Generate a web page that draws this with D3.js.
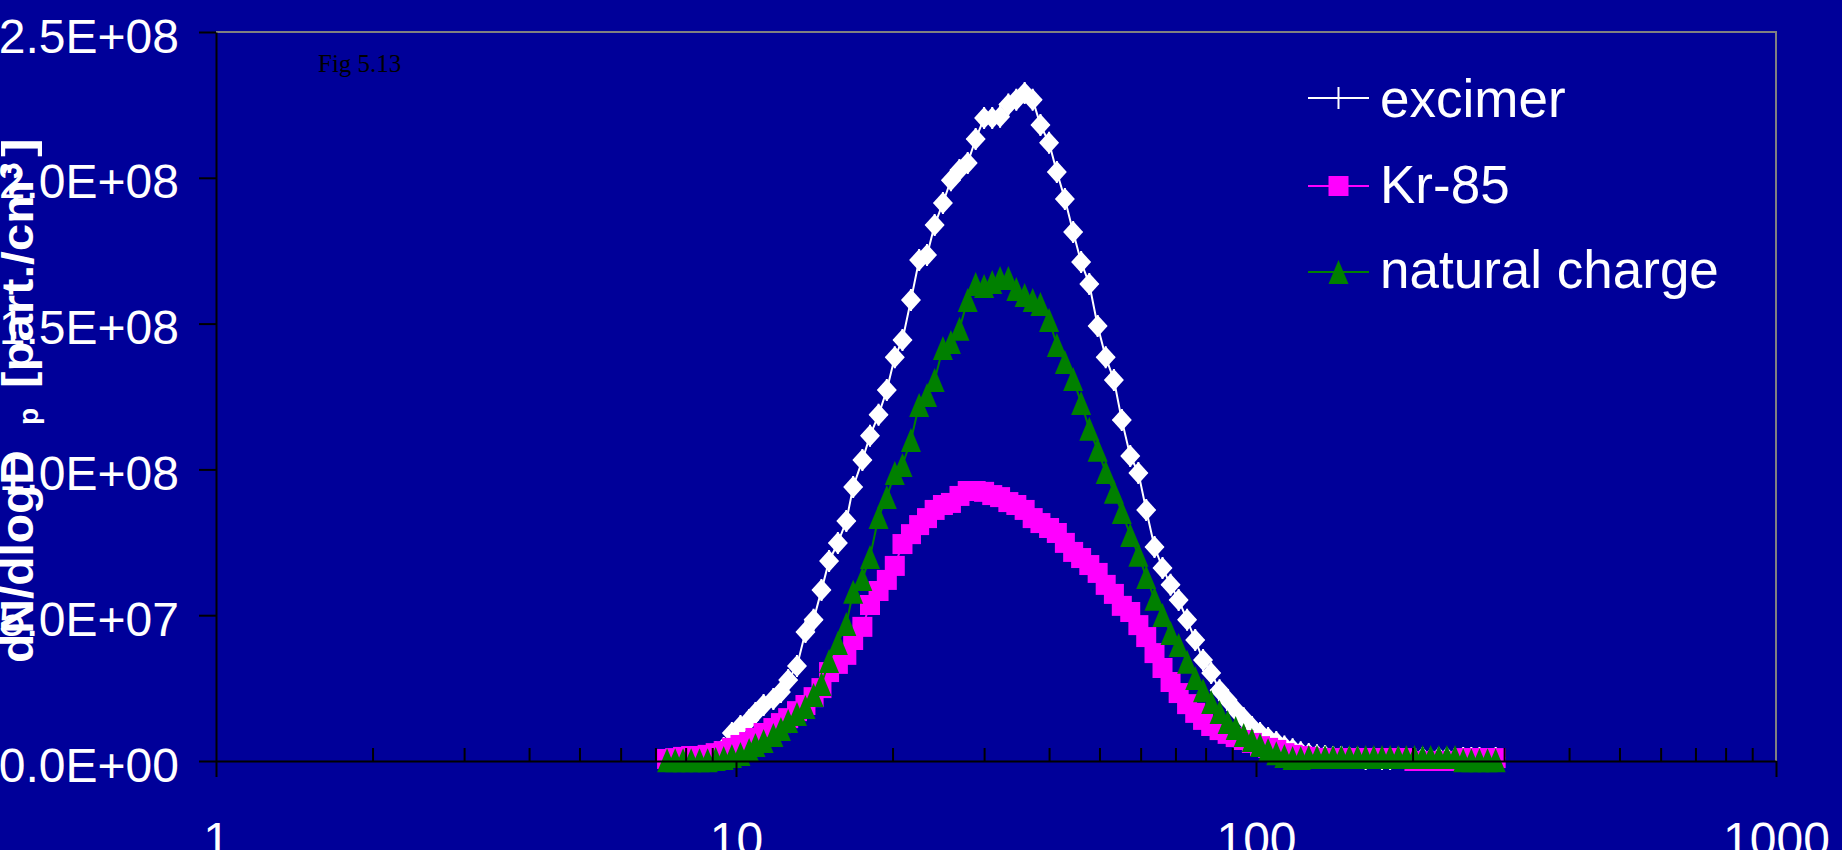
<!DOCTYPE html>
<html>
<head>
<meta charset="utf-8">
<script src="https://cdn.jsdelivr.net/npm/d3@7"></script>
<style>
  html, body { margin: 0; padding: 0; background: #000099; overflow: hidden; }
  svg { display: block; }
</style>
</head>
<body>
<svg id="chart" width="1842" height="850"></svg>
<script>
// Mobility diameters of the size channels [nm]
const diameters = [
  7.37, 7.64, 7.91, 8.20, 8.51, 8.82, 9.14, 9.47, 9.82, 10.2,
  10.6, 10.9, 11.3, 11.8, 12.2, 12.6, 13.1, 13.6, 14.1, 14.6,
  15.1, 15.7, 16.3, 16.8, 17.5, 18.1, 18.8, 19.5, 20.2, 20.9,
  21.7, 22.5, 23.3, 24.1, 25.0, 25.9, 26.9, 27.9, 28.9, 30.0,
  31.1, 32.2, 33.4, 34.6, 35.9, 37.2, 38.5, 40.0, 41.4, 42.9,
  44.5, 46.1, 47.8, 49.6, 51.4, 53.3, 55.2, 57.3, 59.4, 61.5,
  63.8, 66.1, 68.5, 71.0, 73.7, 76.4, 79.1, 82.0, 85.1, 88.2,
  91.4, 94.7, 98.2, 101.8, 105.5, 109.4, 113.4, 117.6, 121.9, 126.3,
  131.0, 135.8, 140.7, 145.9, 151.2, 156.8, 162.5, 168.5, 174.7, 181.1,
  187.7, 194.6, 201.7, 209.1, 216.7, 224.7, 232.9, 241.4, 250.3, 259.5,
  269.0, 278.8, 289.0
];

// dN/dlogDp in units of 1e6 part./cm3
const excimer = [
  0.3, 0.5, 0.7, 1.0, 1.4, 2.0, 3.0, 4.5, 9.6, 12.0,
  14.1, 16.5, 19.2, 21.3, 23.7, 27.8, 32.6, 44.2, 48.4, 58.6,
  68.6, 74.8, 82.3, 94.0, 103.2, 111.5, 118.7, 127.2, 138.5, 144.4,
  158.1, 171.8, 173.5, 183.8, 191.4, 199.2, 202.7, 205.1, 213.3, 220.5,
  220.5, 220.9, 225.1, 226.8, 229.1, 226.8, 218.1, 212.0, 202.0, 192.7,
  181.4, 171.1, 163.6, 149.2, 138.5, 130.7, 116.9, 104.6, 98.8, 86.1,
  73.4, 66.2, 60.4, 55.2, 48.4, 41.5, 34.6, 30.2, 24.3, 20.9,
  17.5, 14.7, 11.7, 9.6, 7.9, 6.5, 5.0, 4.0, 3.0, 2.4,
  2.0, 1.7, 1.4, 1.4, 1.0, 1.0, 0.7, 1.0, 0.7, 0.7,
  1.0, 0.7, 0.7, 1.0, 0.7, 1.0, 1.0, 0.7, 1.0, 1.0,
  1.0, 0.7, 1.0
];

const kr85 = [
  0.7, 1.0, 1.4, 1.7, 1.7, 2.1, 2.7, 3.4, 4.5, 5.5,
  6.5, 7.9, 9.6, 11.3, 13.0, 14.7, 17.1, 19.2, 21.9, 25.0,
  30.5, 33.3, 36.4, 41.5, 46.0, 53.5, 58.3, 62.1, 66.9, 74.4,
  77.8, 80.9, 83.3, 86.1, 87.8, 88.5, 90.9, 92.6, 92.6, 92.3,
  91.2, 90.5, 88.8, 87.8, 86.1, 83.3, 81.6, 79.9, 78.2, 74.8,
  71.7, 69.6, 67.2, 64.5, 60.4, 57.3, 53.2, 51.1, 46.6, 42.5,
  37.0, 31.9, 27.1, 23.3, 19.5, 16.5, 14.1, 12.0, 10.6, 9.3,
  8.2, 7.2, 6.2, 5.1, 4.5, 3.8, 2.7, 2.1, 1.7, 1.4,
  1.0, 1.0, 1.0, 1.0, 1.0, 1.0, 1.0, 1.0, 1.0, 1.0,
  1.0, 1.0, 0.0, 0.0, 0.0, 0.0, 0.0, 0.0, 1.0, 1.0,
  1.0, 1.0, 1.0
];

const naturalCharge = [
  0.3, 0.3, 0.3, 0.3, 0.3, 0.3, 0.7, 1.0, 1.7, 2.4,
  3.8, 5.5, 6.9, 8.9, 11.0, 13.7, 16.1, 18.5, 22.6, 26.4,
  34.3, 40.5, 47.0, 58.0, 62.4, 70.0, 83.7, 90.5, 98.8, 101.5,
  110.1, 122.1, 125.5, 130.7, 141.6, 143.7, 148.2, 158.1, 163.6, 162.9,
  164.3, 165.6, 165.6, 161.9, 159.8, 158.1, 156.7, 151.2, 142.7, 136.8,
  131.0, 122.8, 113.9, 106.7, 99.1, 92.3, 85.4, 77.5, 70.7, 63.1,
  55.6, 50.1, 43.9, 39.8, 34.0, 28.5, 24.3, 20.2, 16.8, 13.4,
  11.3, 8.9, 7.2, 5.5, 3.8, 2.7, 1.7, 1.0, 1.0, 1.4,
  1.4, 1.4, 1.4, 1.4, 1.4, 1.4, 1.4, 1.4, 1.4, 1.4,
  1.4, 1.4, 1.4, 1.4, 1.4, 1.4, 1.4, 1.4, 0.3, 0.3,
  0.3, 0.3, 0.3
];

const seriesNames = ["excimer", "Kr-85", "natural charge"];
const seriesColors = ["#FFFFFF", "#FF00FF", "#008000"];

const yTicks = [0, 5e7, 1e8, 1.5e8, 2e8, 2.5e8];
const yTickLabels = ["0.0E+00", "5.0E+07", "1.0E+08", "1.5E+08", "2.0E+08", "2.5E+08"];
const xTicks = [1, 10, 100, 1000];
const xTickLabels = ["1", "10", "100", "1000"];
const xMinorTicks = [2, 3, 4, 5, 6, 7, 8, 9, 20, 30, 40, 50, 60, 70, 80, 90,
                     200, 300, 400, 500, 600, 700, 800, 900];

const UNIT = 1e6;
const FONT = "'Liberation Sans', Arial, Helvetica, sans-serif";

const svg = d3.select("#chart");
const plot = { left: 216, right: 1776, top: 32, bottom: 761 };

svg.append("rect").attr("width", 1842).attr("height", 850).attr("fill", "#000099");

const x = d3.scaleLog().domain([1, 1000]).range([plot.left, plot.right]);
const y = d3.scaleLinear().domain([0, 2.5e8]).range([plot.bottom, plot.top]);

// grey frame on top and right
svg.append("path")
  .attr("d", `M${plot.left},${plot.top}H${plot.right}V${plot.bottom}`)
  .attr("fill", "none").attr("stroke", "#808080").attr("stroke-width", 2);

// marker shapes
const diamond = "M0,-11L10,0L0,11L-10,0Z";
const square = "M-10,-10H10V10H-10Z";
const triangle = "M0,-12L10,12L-10,12Z";
const plus = "M0,-11V11M-9,0H9";

const rows = diameters.map((d, i) => ({ d, v: [excimer[i], kr85[i], naturalCharge[i]] }));

function lineFor(s) {
  return d3.line().x(r => x(r.d)).y(r => y(r.v[s] * UNIT))(rows);
}

// excimer
const gEx = svg.append("g");
gEx.append("path").attr("d", lineFor(0)).attr("fill", "none")
  .attr("stroke", seriesColors[0]).attr("stroke-width", 2);
gEx.selectAll("path.plus").data(rows).join("path").attr("class", "plus")
  .attr("transform", r => `translate(${x(r.d)},${y(r.v[0] * UNIT)})`)
  .attr("d", plus).attr("stroke", seriesColors[0]).attr("stroke-width", 2).attr("fill", "none");
gEx.selectAll("path.dia").data(rows).join("path").attr("class", "dia")
  .attr("transform", r => `translate(${x(r.d)},${y(r.v[0] * UNIT)})`)
  .attr("d", diamond).attr("fill", seriesColors[0]);

// Kr-85
const gKr = svg.append("g");
gKr.append("path").attr("d", lineFor(1)).attr("fill", "none")
  .attr("stroke", seriesColors[1]).attr("stroke-width", 2);
gKr.selectAll("path.sq").data(rows).join("path").attr("class", "sq")
  .attr("transform", r => `translate(${x(r.d)},${y(r.v[1] * UNIT)})`)
  .attr("d", square).attr("fill", seriesColors[1]);

// natural charge
const gNat = svg.append("g");
gNat.append("path").attr("d", lineFor(2)).attr("fill", "none")
  .attr("stroke", seriesColors[2]).attr("stroke-width", 2);
gNat.selectAll("path.tri").data(rows).join("path").attr("class", "tri")
  .attr("transform", r => `translate(${x(r.d)},${y(r.v[2] * UNIT)})`)
  .attr("d", triangle).attr("fill", seriesColors[2]);

// axes
function styleAxis(g) {
  g.selectAll("path.domain").attr("stroke", "#000").attr("stroke-width", 2);
  g.selectAll(".tick line").attr("stroke", "#000").attr("stroke-width", 2);
  g.selectAll(".tick text").attr("fill", "#fff").attr("font-family", FONT).attr("font-size", 48);
}

const gy = svg.append("g").attr("transform", `translate(${plot.left},0)`)
  .call(d3.axisLeft(y).tickValues(yTicks).tickFormat((d, i) => yTickLabels[i])
    .tickSize(17).tickSizeOuter(0).tickPadding(20));
styleAxis(gy);
gy.selectAll(".tick text").attr("dy", "0.42em");

const gxMinor = svg.append("g").attr("transform", `translate(0,${plot.bottom})`)
  .call(d3.axisBottom(x).tickValues(xMinorTicks).tickFormat("").tickSize(-13).tickSizeOuter(0));
gxMinor.select("path.domain").remove();
styleAxis(gxMinor);

const gx = svg.append("g").attr("transform", `translate(0,${plot.bottom})`)
  .call(d3.axisBottom(x).tickValues(xTicks).tickFormat((d, i) => xTickLabels[i])
    .tickSize(16).tickSizeOuter(0));
styleAxis(gx);
gx.selectAll(".tick text").attr("y", 95).attr("dy", 0);

// y axis title
const gt = svg.append("g").attr("transform", "translate(33,663) rotate(-90)")
  .attr("fill", "#fff").attr("font-family", FONT).attr("font-weight", "bold");
gt.append("text").attr("x", 0).attr("y", 0).attr("font-size", 46)
  .attr("textLength", 213).attr("lengthAdjust", "spacingAndGlyphs").text("dN/dlogD");
gt.append("text").attr("x", 238).attr("y", 5).attr("font-size", 28).text("p");
gt.append("text").attr("x", 275).attr("y", 0).attr("font-size", 44)
  .attr("textLength", 208).attr("lengthAdjust", "spacingAndGlyphs").text("[part./cm");
gt.append("text").attr("x", 484).attr("y", -13).attr("font-size", 30).text("3");
gt.append("text").attr("x", 506).attr("y", 0).attr("font-size", 44)
  .attr("textLength", 19).attr("lengthAdjust", "spacingAndGlyphs").text("]");

// figure tag
svg.append("text").attr("x", 318).attr("y", 72)
  .attr("font-family", "'Liberation Serif', 'Times New Roman', serif")
  .attr("font-size", 25).attr("fill", "#000").text("Fig 5.13");

// legend
const legendRows = [98, 186, 272];
const legendBase = [117, 203, 288];
const legendMarkers = [plus, square, triangle];
const gl = svg.append("g");
seriesNames.forEach((name, i) => {
  gl.append("line").attr("x1", 1308).attr("x2", 1369)
    .attr("y1", legendRows[i]).attr("y2", legendRows[i])
    .attr("stroke", seriesColors[i]).attr("stroke-width", 2);
  const m = gl.append("path").attr("transform", `translate(1338.5,${legendRows[i]})`)
    .attr("d", legendMarkers[i]);
  if (i === 0) m.attr("fill", "none").attr("stroke", seriesColors[i]).attr("stroke-width", 2);
  else m.attr("fill", seriesColors[i]);
  gl.append("text").attr("x", 1380).attr("y", legendBase[i])
    .attr("font-family", FONT).attr("font-size", 53).attr("fill", "#fff").text(name);
});
</script>
</body>
</html>
